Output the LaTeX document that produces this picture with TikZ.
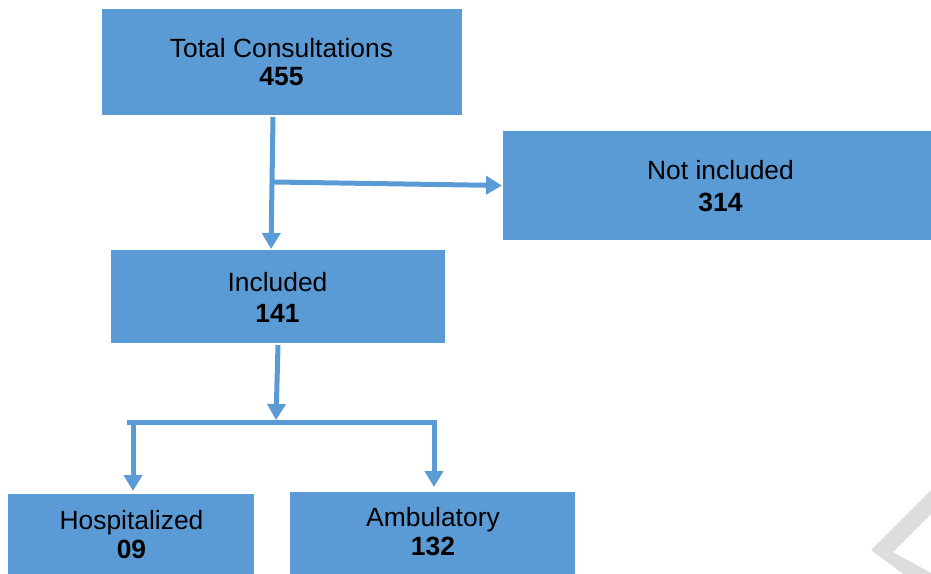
\documentclass[tikz,border=0pt]{standalone}
\usepackage{fontspec}
\setmainfont{Liberation Sans}
\usetikzlibrary{arrows.meta}
\definecolor{boxblue}{HTML}{5B9BD5}
\definecolor{wmgrey}{HTML}{DDDDDD}
\begin{document}
\begin{tikzpicture}[x=1pt,y=-1pt,
  box/.style={fill=boxblue, draw=none, inner sep=0pt, outer sep=0pt, anchor=north west},
  lbl/.style={anchor=base, inner sep=0pt, font=\fontsize{26.4}{30}\selectfont},
  num/.style={anchor=base, inner sep=0pt, font=\fontsize{26.4}{30}\selectfont\bfseries},
  conn/.style={draw=boxblue, line width=5pt},
  arr/.style={conn, -{Triangle[width=18pt,length=16pt]}}]
\useasboundingbox (0,0) rectangle (931,573);
\clip (0,0) rectangle (931,573);

% watermark chevron
\fill[wmgrey] (941,480) -- (871,550) -- (915.5,583) -- (949,583) -- (893,552) -- (941,504) -- cycle;

% boxes
\node[box, minimum width=360pt, minimum height=106pt] (tot) at (102,9) {};
\node[box, minimum width=428pt, minimum height=109pt] (notinc) at (503,131) {};
\node[box, minimum width=334pt, minimum height=93pt] (inc) at (111,250) {};
\node[box, minimum width=246pt, minimum height=90pt] (hosp) at (8,494) {};
\node[box, minimum width=285pt, minimum height=90pt] (amb) at (290,492) {};

% texts
\node[lbl] (totA) at (281.5,57) {Total Consultations};
\node[num] (totB) at (281.5,85) {455};
\node[lbl] (niA) at (720.5,179) {Not included};
\node[num] (niB) at (720.5,211) {314};
\node[lbl] (incA) at (277.5,291) {Included};
\node[num] (incB) at (277.5,322) {141};
\node[lbl] (hospA) at (131.5,529) {Hospitalized};
\node[num] (hospB) at (131.5,558) {09};
\node[lbl] (ambA) at (433,526) {Ambulatory};
\node[num] (ambB) at (433,555) {132};

% connectors
\coordinate (j1) at (274,182);
\coordinate (j2) at (276,420);
\coordinate (bl) at (127,422.5);
\coordinate (br) at (436.5,422.5);
\coordinate (dl) at (133,420);
\coordinate (dr) at (434,420);

\draw[arr] ([xshift=-9pt,yshift=-2pt]tot.south) -- ([xshift=-7pt,yshift=1pt]inc.north);
\draw[arr] (j1) -- ([xshift=-1pt]notinc.west);
\draw[arr] ([yshift=-2pt]inc.south) -- (j2);
\draw[conn] (bl) -- (br);
\draw[arr] (dl) -- ([yshift=3pt]dl |- hosp.north);
\draw[arr] (dr) -- ([yshift=5pt]dr |- amb.north);
\end{tikzpicture}
\end{document}
